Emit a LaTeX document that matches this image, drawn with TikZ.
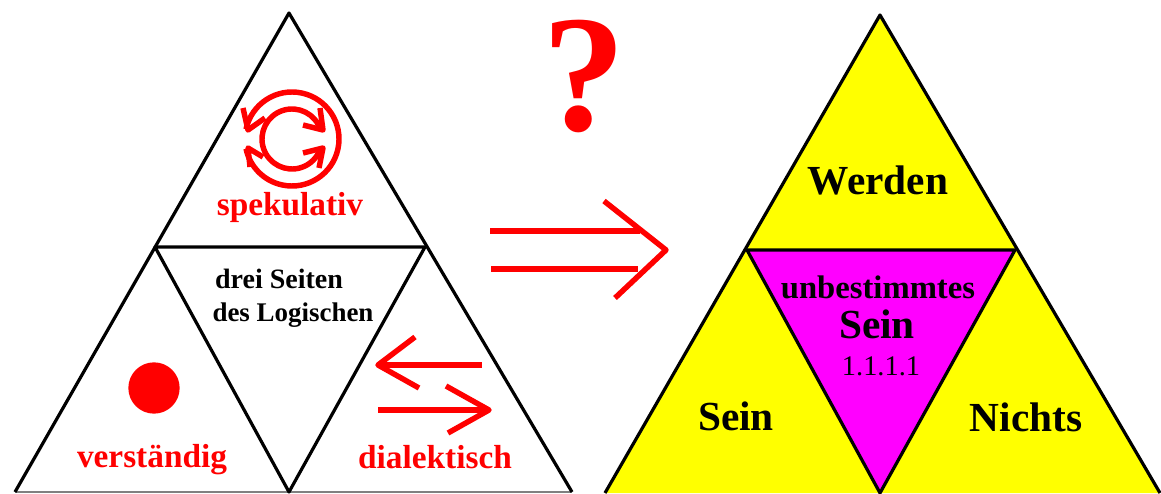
\documentclass[tikz,border=0pt]{standalone}
\usepackage{xcolor}
\usepackage{fontspec}
\setmainfont{Liberation Serif}
\definecolor{gelb}{rgb}{1.0,1.0,0.0}
\definecolor{magen}{rgb}{1.0,0.0,1.0}
\definecolor{rot}{rgb}{1.0,0.0,0.0}

\begin{document}
\begin{tikzpicture}[x=0.75pt,y=0.75pt,
	side/.style={black,line width=2.4pt,line join=round},
	redline/.style={rot,line width=4.1pt,line join=round},
	redword/.style={rot,font=\fontsize{25pt}{25pt}\selectfont\bfseries,inner sep=0pt},
	blackword/.style={black,font=\fontsize{31pt}{31pt}\selectfont\bfseries,inner sep=0pt},
	smallword/.style={black,font=\fontsize{21pt}{21pt}\selectfont\bfseries,inner sep=0pt}]
  \useasboundingbox (0,0) rectangle (1161,493);
  % left triangle
  \coordinate (ltop) at (289,480);
  \coordinate (lleft) at (155,246);
  \coordinate (lright) at (425,246);
  \coordinate (lmid) at (289,1);
  \coordinate (lbl) at (15,1);
  \coordinate (lbr) at (572,1);
  \draw[gray,line width=1pt] (lbl) -- (lbr);
  \draw[side] (lbl) -- (ltop) -- (lbr);
  \draw[side] (lleft) -- (lright) -- (lmid) -- cycle;
  % right triangle
  \coordinate (rtop) at (880,478);
  \coordinate (rleft) at (747,243);
  \coordinate (rright) at (1015,243);
  \coordinate (rmid) at (880,0);
  \coordinate (rbl) at (605,0);
  \coordinate (rbr) at (1160,0);
  \fill[gelb] (rtop) -- (rbl) -- (rbr) -- cycle;
  \draw[side] (rbl) -- (rtop) -- (rbr);
  \draw[side,fill=magen] (rleft) -- (rright) -- (rmid) -- cycle;
  % circling arrows
  \coordinate (kreis) at (292,354);
  \draw[redline] (kreis) ++(168:47) arc[start angle=168,end angle=-168,radius=47];
  \draw[redline] (kreis) ++(18:30) arc[start angle=18,end angle=342,radius=30];
  \coordinate (ot) at (248,363);
  \coordinate (ob) at (248,345);
  \coordinate (it) at (323,363);
  \coordinate (ib) at (323,345);
  \coordinate (ot1) at (243,385);
  \coordinate (ot2) at (265,375);
  \coordinate (ob1) at (250,326);
  \coordinate (ob2) at (263,336);
  \coordinate (it1) at (320,385);
  \coordinate (it2) at (303,368);
  \coordinate (ib1) at (319,325);
  \coordinate (ib2) at (303,340);
  \draw[redline] (ot1) -- (ot) -- (ot2);
  \draw[redline] (ob1) -- (ob) -- (ob2);
  \draw[redline] (it1) -- (it) -- (it2);
  \draw[redline] (ib1) -- (ib) -- (ib2);
  % dot
  \node[circle,fill=rot,minimum size=38.5pt,inner sep=0pt] (punkt) at (154,105) {};
  % small arrows
  \coordinate (a1) at (482,128);
  \coordinate (a2) at (378,128);
  \coordinate (a3) at (415,156);
  \coordinate (a4) at (419,105);
  \coordinate (b1) at (378,83);
  \coordinate (b2) at (489,83);
  \coordinate (b3) at (446,107);
  \coordinate (b4) at (448,60);
  \draw[redline] (a1) -- (a2);
  \draw[redline] (a3) -- (a2) -- (a4);
  \draw[redline] (b1) -- (b2);
  \draw[redline] (b3) -- (b2) -- (b4);
  % big arrow
  \coordinate (c1) at (490,262);
  \coordinate (c2) at (640,262);
  \coordinate (d1) at (491,224);
  \coordinate (d2) at (638,224);
  \coordinate (c3) at (604,292);
  \coordinate (c4) at (666,243);
  \coordinate (c5) at (615,195);
  \draw[redline] (c1) -- (c2);
  \draw[redline] (d1) -- (d2);
  \draw[redline] (c3) -- (c4) -- (c5);
  % question mark
  \node[rot,font=\fontsize{125pt}{125pt}\selectfont\bfseries,inner sep=0pt] (frage) at (584,416) {?};
  % words left
  \node[redword] (spek) at (290,286) {spekulativ};
  \node[redword] (verst) at (152,33) {verständig};
  \node[redword] (dial) at (435,36) {dialektisch};
  \node[smallword] (drei) at (279,214) {drei Seiten};
  \node[smallword,font=\fontsize{20.2pt}{20.2pt}\selectfont\bfseries] (logik) at (293,178) {des Logischen};
  % words right
  \node[blackword] (werden) at (878,313) {Werden};
  \node[blackword,font=\fontsize{24.5pt}{24.5pt}\selectfont\bfseries] (unbest) at (878,206) {unbestimmtes};
  \node[blackword] (sein) at (877,169) {Sein};
  \node[black,font=\fontsize{21.3pt}{21.3pt}\selectfont,inner sep=0pt] (nummer) at (881,127) {1.1.1.1};
  \node[blackword] (seinl) at (736,77) {Sein};
  \node[blackword] (nichts) at (1026,76) {Nichts};
\end{tikzpicture}
\end{document}
